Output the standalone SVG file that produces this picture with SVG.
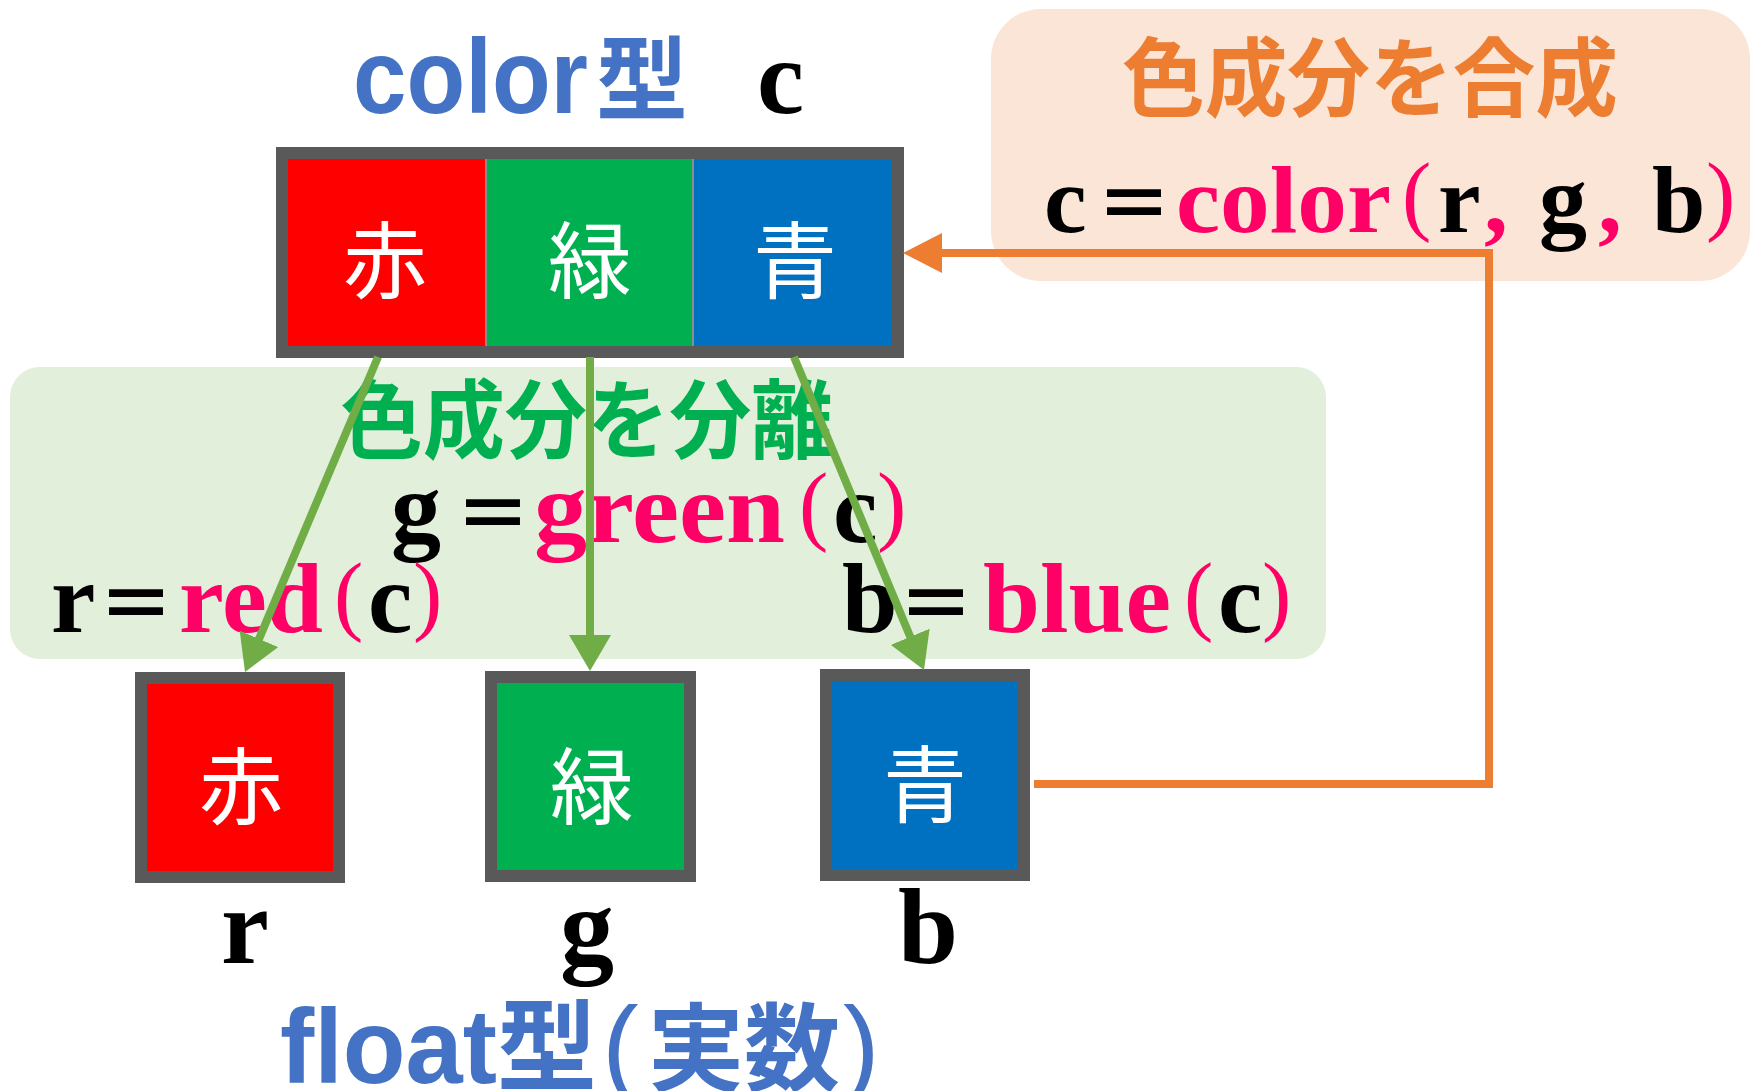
<svg xmlns="http://www.w3.org/2000/svg" width="1752" height="1091" viewBox="0 0 1752 1091">
<defs>
<marker id="ga" markerUnits="userSpaceOnUse" markerWidth="37" markerHeight="42" refX="6" refY="21" orient="auto"><path d="M0,0 L36,21 L0,42 Z" fill="#70AD47"/></marker>
</defs>
<style>
.box{stroke:#595959;stroke-width:12}
.cell{font-family:"Noto Sans CJK JP",sans-serif;font-size:84px;fill:#fff;text-anchor:middle}
.ser{font-family:"Liberation Serif","Noto Sans CJK JP",serif;font-weight:bold;fill:#000}
.pk{fill:#FF0066}
.par{font-family:"Liberation Serif",serif;font-weight:normal;font-size:88px;fill:#FF0066}
.eq{font-family:"Noto Sans CJK JP",sans-serif;font-weight:bold;font-size:76px}
.ttl{font-family:"Noto Sans CJK JP",sans-serif;font-weight:bold;font-size:86px;text-anchor:middle}
.type{font-family:"Liberation Sans","Noto Sans CJK JP",sans-serif;font-weight:bold;fill:#4472C4}
.tpar{font-family:"Liberation Sans",sans-serif;font-weight:normal;font-size:110px}
.lbl{font-family:"Liberation Serif",serif;font-weight:bold;font-size:108px;fill:#000}
.gl{stroke:#70AD47;stroke-width:8;fill:none;marker-end:url(#ga)}
</style>
<rect width="1752" height="1091" fill="#fff"/>

<g id="separate-panel">
<rect x="10" y="367" width="1316" height="292" rx="30" fill="#E2EFDA"/>
<text class="ttl" x="587" y="452" fill="#00B050" textLength="493" lengthAdjust="spacingAndGlyphs">色成分を分離</text>
<text class="ser" font-size="100"><tspan x="391" y="542">g</tspan><tspan class="eq" x="455" y="542">＝</tspan><tspan class="pk" x="534" y="542" textLength="251" lengthAdjust="spacingAndGlyphs">green</tspan><tspan class="par" x="799" y="534">(</tspan><tspan x="833" y="542">c</tspan><tspan class="par" x="877" y="534">)</tspan></text>
<text class="ser" font-size="100"><tspan x="51" y="632">r</tspan><tspan class="eq" x="98" y="632">＝</tspan><tspan class="pk" x="179" y="632" textLength="144" lengthAdjust="spacingAndGlyphs">red</tspan><tspan class="par" x="334" y="624">(</tspan><tspan x="368" y="632">c</tspan><tspan class="par" x="413" y="624">)</tspan></text>
<text class="ser" font-size="100"><tspan x="842" y="632">b</tspan><tspan class="eq" x="898" y="632">＝</tspan><tspan class="pk" x="983" y="632" textLength="188" lengthAdjust="spacingAndGlyphs">blue</tspan><tspan class="par" x="1184" y="624">(</tspan><tspan x="1218" y="632">c</tspan><tspan class="par" x="1262" y="624">)</tspan></text>
</g>

<g id="combine-panel">
<rect x="991" y="9" width="759" height="272" rx="50" fill="#FBE5D6"/>
<text class="ttl" x="1370" y="110" fill="#ED7D31" textLength="496" lengthAdjust="spacingAndGlyphs">色成分を合成</text>
<text class="ser" font-size="96"><tspan x="1044" y="232">c</tspan><tspan class="eq" x="1096" y="232">＝</tspan><tspan class="pk" x="1176" y="232" textLength="215" lengthAdjust="spacingAndGlyphs">color</tspan><tspan class="par" x="1402" y="224">(</tspan><tspan x="1438" y="232">r</tspan><tspan class="pk" x="1484" y="232">, </tspan><tspan x="1539" y="232">g</tspan><tspan class="pk" x="1598" y="232">, </tspan><tspan x="1652" y="232">b</tspan><tspan class="par" x="1706" y="224">)</tspan></text>
</g>

<g id="color-c">
<text class="type" y="113"><tspan x="353" font-size="106" textLength="235" lengthAdjust="spacingAndGlyphs">color</tspan><tspan x="596" font-size="92">型</tspan></text>
<text class="ser" x="757" y="113" font-size="106">c</text>
<rect x="288" y="159" width="198" height="187" fill="#FF0000"/>
<rect x="486" y="159" width="207" height="187" fill="#00B050"/>
<rect x="693" y="159" width="200" height="187" fill="#0070C0"/>
<line x1="486" y1="159" x2="486" y2="346" stroke="#8C8C8C" stroke-width="2"/>
<line x1="693" y1="159" x2="693" y2="346" stroke="#8C8C8C" stroke-width="2"/>
<rect class="box" x="282" y="153" width="616" height="199" fill="none"/>
<text class="cell" x="385" y="292">赤</text>
<text class="cell" x="590" y="292">緑</text>
<text class="cell" x="795" y="292">青</text>
</g>

<g id="node-r">
<rect class="box" x="141" y="678" width="198" height="199" fill="#FF0000"/>
<text class="cell" x="241" y="818">赤</text>
<text class="lbl" x="221" y="963">r</text>
</g>
<g id="node-g">
<rect class="box" x="491" y="677" width="199" height="199" fill="#00B050"/>
<text class="cell" x="592" y="818">緑</text>
<text class="lbl" x="560" y="963">g</text>
</g>
<g id="node-b">
<rect class="box" x="826" y="675" width="198" height="200" fill="#0070C0"/>
<text class="cell" x="925" y="816">青</text>
<text class="lbl" x="898" y="963">b</text>
</g>

<g id="float-label">
<text class="type" y="1083"><tspan x="280" font-size="106" textLength="217" lengthAdjust="spacingAndGlyphs">float</tspan><tspan x="497" font-size="100">型</tspan><tspan class="tpar" x="602">(</tspan><tspan x="648" font-size="96">実</tspan><tspan x="744" font-size="96">数</tspan><tspan class="tpar" x="843">)</tspan></text>
</g>

<g id="connectors">
<line class="gl" x1="378" y1="357" x2="256.7" y2="644.4"/>
<line class="gl" x1="590" y1="357" x2="590" y2="641"/>
<line class="gl" x1="794" y1="357" x2="912.5" y2="642.3"/>
<polyline points="1034,784 1489,784 1489,253 936,253" fill="none" stroke="#ED7D31" stroke-width="8"/>
<polygon points="903,253 942,233 942,273" fill="#ED7D31"/>
</g>
</svg>
